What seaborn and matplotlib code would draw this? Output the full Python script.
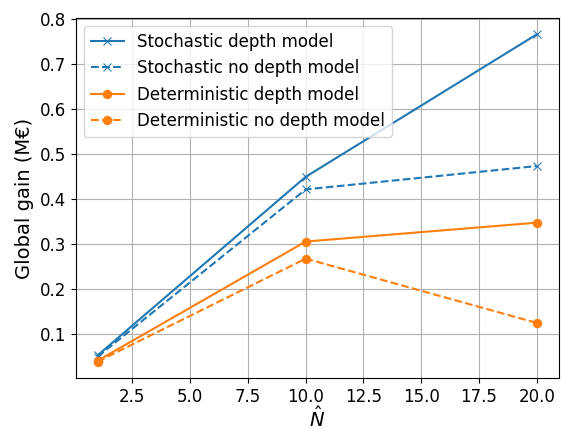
import matplotlib
matplotlib.use("Agg")
import matplotlib.pyplot as plt
import seaborn as sns
import pandas as pd

n_hat = [1, 10, 20]
stoch_depth = [0.052, 0.449, 0.766]
stoch_no_depth = [0.049, 0.421, 0.473]
det_depth = [0.040, 0.305, 0.347]
det_no_depth = [0.038, 0.267, 0.124]

series = [
    ("Stochastic depth model", stoch_depth, "#1f77b4", "-", "x"),
    ("Stochastic no depth model", stoch_no_depth, "#1f77b4", "--", "x"),
    ("Deterministic depth model", det_depth, "#ff7f0e", "-", "o"),
    ("Deterministic no depth model", det_no_depth, "#ff7f0e", "--", "o"),
]

fig, ax = plt.subplots(figsize=(5.61, 4.28), dpi=100)
for name, vals, color, ls, mk in series:
    df = pd.DataFrame({"x": n_hat, "y": vals})
    sns.lineplot(data=df, x="x", y="y", ax=ax, color=color, linestyle=ls,
                 marker=mk, markersize=6, markeredgecolor=color, label=name,
                 linewidth=1.5)

ax.grid(True, color="#b0b0b0", linewidth=0.8)
ax.set_axisbelow(True)
ax.set_xlabel(r"$\hat{N}$", fontsize=14, labelpad=0.5)
ax.set_ylabel("Global gain (M€)", fontsize=14)
ax.tick_params(labelsize=12)
ax.legend(fontsize=12, loc="upper left")
fig.subplots_adjust(left=0.135, right=0.996, bottom=0.117, top=0.958)
fig.savefig("out.png", dpi=100)
